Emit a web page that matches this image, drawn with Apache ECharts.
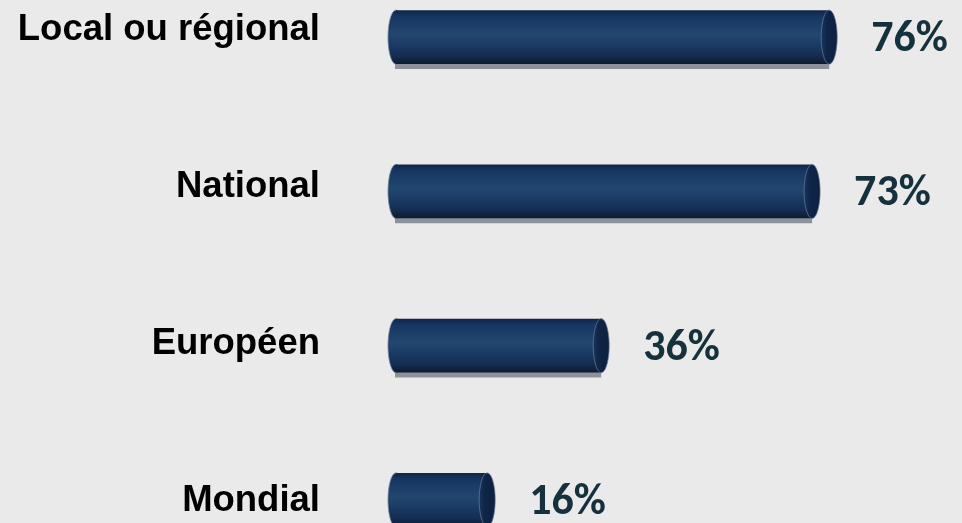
<!DOCTYPE html>
<html>
<head>
<meta charset="utf-8">
<script src="https://cdn.jsdelivr.net/npm/echarts@6/dist/echarts.min.js"></script>
<style>
html,body{margin:0;padding:0;background:#eaeaea;}
#chart{width:962px;height:523px;}
</style>
</head>
<body>
<div id="chart"></div>
<script>
const categories = ['Local ou régional', 'National', 'Européen', 'Mondial'];
const values = [76, 73, 36, 16];

const chart = echarts.init(document.getElementById('chart'));

const bodyGrad = () => new echarts.graphic.LinearGradient(0, 0, 0, 1, [
  {offset: 0, color: '#0f2546'},
  {offset: 0.12, color: '#163662'},
  {offset: 0.45, color: '#22476f'},
  {offset: 0.62, color: '#1b3c66'},
  {offset: 0.85, color: '#142c50'},
  {offset: 1, color: '#0c1a2e'}
]);

function renderItem(params, api) {
  const v = api.value(0);
  const c = api.value(1);
  const p0 = api.coord([0, c]);
  const p1 = api.coord([v, c]);
  const h = api.size([0, 1])[1] * 0.35;
  const top = p0[1] - h / 2;
  const rx = 8;
  const xl = p0[0] - 16;
  const xr = p1[0];
  return {
    type: 'group',
    children: [
      {type: 'rect', shape: {x: xl + 7, y: top + 5, width: (xr - 8) - (xl + 7), height: h},
       style: {fill: '#8b929b'}},
      {type: 'ellipse', shape: {cx: xl + rx, cy: p0[1], rx: rx, ry: h / 2},
       style: {fill: bodyGrad(), stroke: 'rgba(120,135,155,0.8)', lineWidth: 1}},
      {type: 'rect', shape: {x: xl + rx, y: top, width: (xr - rx) - (xl + rx), height: h},
       style: {fill: bodyGrad()}},
      {type: 'ellipse', shape: {cx: xr - rx, cy: p0[1], rx: rx, ry: h / 2},
       style: {fill: new echarts.graphic.LinearGradient(0, 0, 1, 0, [
         {offset: 0, color: '#183660'}, {offset: 0.35, color: '#0f2547'}, {offset: 1, color: '#0d2140'}
       ]), stroke: 'rgba(110,125,145,0.7)', lineWidth: 1}},
      {type: 'text', style: {x: xr + 34, y: p1[1] + 3, text: v + '%', fill: '#15313c',
        fontSize: 44, fontWeight: 'bold', fontFamily: 'Carlito, Lato, sans-serif',
        align: 'left', verticalAlign: 'middle'}}
    ]
  };
}

chart.setOption({
  backgroundColor: '#eaeaea',
  animation: false,
  grid: [
    {left: 404, width: 570, top: -40, height: 617, outerBoundsMode: 'none', containLabel: false},
    {left: 404, width: 570, top: -49, height: 629, outerBoundsMode: 'none', containLabel: false}
  ],
  xAxis: [
    {gridIndex: 0, type: 'value', min: 0, max: 100, show: false},
    {gridIndex: 1, type: 'value', min: 0, max: 100, show: false}
  ],
  yAxis: [
    {gridIndex: 0, type: 'category', data: categories, inverse: true, show: false},
    {gridIndex: 1, type: 'category', data: categories, inverse: true,
     axisLine: {show: false}, axisTick: {show: false}, splitLine: {show: false},
     axisLabel: {margin: 84, color: '#000', fontSize: 36.5, fontWeight: 'bold',
       fontFamily: 'Liberation Sans, Arial, sans-serif'}}
  ],
  series: [{
    type: 'custom',
    xAxisIndex: 0, yAxisIndex: 0,
    renderItem: renderItem,
    encode: {x: 0, y: 1},
    clip: false,
    data: values.map((v, i) => [v, i])
  }]
});
</script>
</body>
</html>
